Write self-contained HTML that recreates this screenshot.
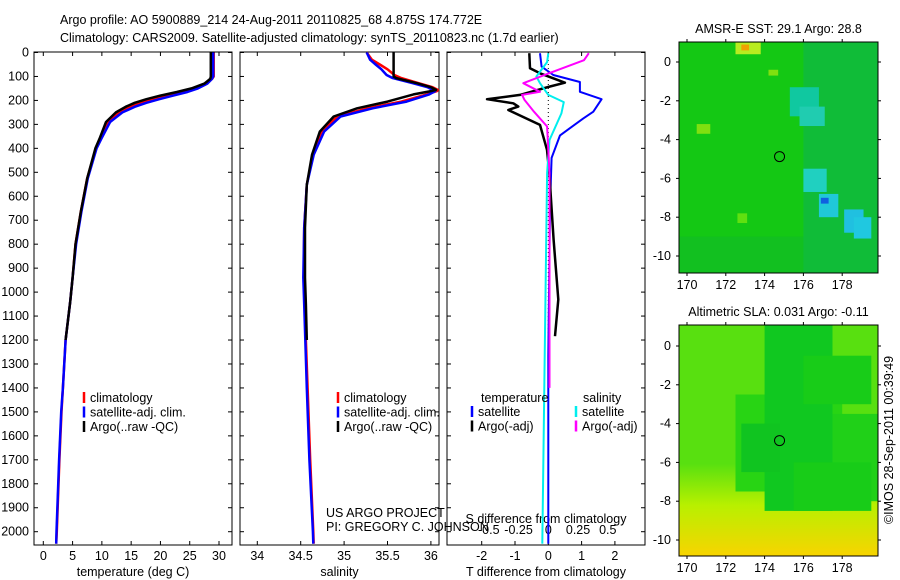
<!DOCTYPE html>
<html><head><meta charset="utf-8"><style>
body{margin:0;background:#fff;}
svg{display:block;font-family:"Liberation Sans",sans-serif;}
text{font-size:12.5px;fill:#000;}
</style></head><body>
<svg id="chart" width="900" height="580" viewBox="0 0 900 580" xmlns="http://www.w3.org/2000/svg">
<text x="60" y="24">Argo profile: AO 5900889_214 24-Aug-2011 20110825_68 4.875S 174.772E</text>
<text x="60" y="42">Climatology: CARS2009. Satellite-adjusted climatology: synTS_20110823.nc (1.7d earlier)</text>
<g id="m1"></g>
<g id="m2"></g>
<g id="p1"></g>
<g id="p2"></g>
<g id="p3"></g>
<text transform="translate(893,440) rotate(-90)" text-anchor="middle">©IMOS 28-Sep-2011 00:39:49</text>
</svg>
<script>
const depths=[0,100,110,130,150,165,180,195,210,225,250,290,360,400,525,665,800,940,1040,1200,1400,1500,1700,2000,2050];
const tempClim=[29.1,29.1,28.8,27.8,25.8,23.8,21.2,18.8,16.7,15.0,12.9,11.0,9.7,9.0,7.5,6.4,5.5,5.0,4.6,3.8,3.35,3.1,2.75,2.3,2.2];
const tempSat=[29.0,29.0,28.8,28.0,26.4,24.6,22.2,19.8,17.6,15.8,13.5,11.4,9.9,9.1,7.6,6.5,5.6,5.0,4.6,3.8,3.35,3.05,2.7,2.25,2.2];
const argoDepths=[0,100,110,130,150,165,180,195,210,225,250,290,360,400,525,665,800,940,1040,1200];
const tempArgo=[28.6,28.6,28.5,27.5,25.3,22.8,20.0,17.6,15.6,14.2,12.4,10.7,9.6,8.9,7.5,6.4,5.5,5.0,4.6,3.8];
const salDepths=[0,30,52,70,94,107,128,145,156,161,175,205,233,267,330,427,552,731,940,1052,1400,1700,2000,2050];
const salClim=[35.26,35.32,35.42,35.5,35.58,35.66,35.86,36.02,36.08,36.07,35.95,35.66,35.27,34.92,34.74,34.64,34.57,34.54,34.535,34.545,34.58,34.61,34.645,34.65];
const salSat=[35.26,35.3,35.37,35.43,35.49,35.56,35.79,35.96,36.02,36.05,35.98,35.72,35.33,34.96,34.77,34.65,34.57,34.54,34.53,34.54,34.57,34.6,34.64,34.645];
const argoSalDepths=[0,100,107,128,145,156,161,175,205,233,267,330,427,552,731,940,1052,1200];
const salArgo=[35.57,35.57,35.6,35.84,36.0,36.06,36.0,35.8,35.5,35.15,34.88,34.72,34.63,34.57,34.55,34.55,34.56,34.57];
const dTdepths=[3,66,87,126,142,177,195,212,226,240,302,406,503,781,1031,1184];
const dTargo=[-0.57,-0.55,-0.25,0.5,0.05,-0.85,-1.84,-1.05,-0.9,-1.2,-0.25,-0.04,0.03,0.16,0.3,0.2];
const dTsatDepths=[3,59,94,123,164,195,247,275,346,440,641,1268,2050];
const dTsat=[-0.25,-0.2,0.15,0.95,0.95,1.6,1.35,1.05,0.35,0.1,0.05,0.0,0.0];
const dSsatDepths=[3,40,100,128,177,207,254,365,503,1268,2050];
const dSsat=[0.0,-0.01,-0.1,-0.07,0.0,0.13,0.11,0.01,-0.01,-0.03,-0.05];
const dSargoDepths=[3,32,86,128,164,177,198,247,309,503,1184,1400];
const dSargo=[0.34,0.3,0.01,-0.21,-0.07,-0.22,-0.2,-0.12,-0.01,0.01,0.01,0.01];
const depthTicks=[0,100,200,300,400,500,600,700,800,900,1000,1100,1200,1300,1400,1500,1600,1700,1800,1900,2000];
const tTicks=[0,5,10,15,20,25,30];
const sTicks=[34,34.5,35,35.5,36];
const dTticks=[-2,-1,0,1,2];
const dSticks=[-0.5,-0.25,0,0.25,0.5];
const lonTicks=[170,172,174,176,178];
const latTicks=[0,-2,-4,-6,-8,-10];

const NS='http://www.w3.org/2000/svg';
function mk(parent,tag,attrs){const e=document.createElementNS(NS,tag);for(const k in attrs)e.setAttribute(k,attrs[k]);parent.appendChild(e);return e;}
const top0=52,bot=545;
const yD=d=>52.5+d*0.2396;
function panel(g,x0,x1,v0,px0,scale,ticks,label,dataName){
  const xs=v=>px0+(v-v0)*scale;
  const r=mk(g,'rect',{x:x0,y:top0,width:x1-x0,height:bot-top0,fill:'none',stroke:'#000'});
  
  
  ticks.forEach(t=>{const x=xs(t);
    mk(g,'line',{x1:x,x2:x,y1:bot,y2:bot-4,stroke:'#000'});
    mk(g,'line',{x1:x,x2:x,y1:top0,y2:top0+4,stroke:'#000'});
    const tx=mk(g,'text',{x:x,y:bot+15,'text-anchor':'middle'});tx.textContent=t;
    
    
  });
  depthTicks.forEach(d=>{const y=yD(d);
    mk(g,'line',{x1:x0,x2:x0+4,y1:y,y2:y,stroke:'#000'});
    mk(g,'line',{x1:x1,x2:x1-4,y1:y,y2:y,stroke:'#000'});
  });
  if(label){const l=mk(g,'text',{x:(x0+x1)/2,y:bot+31,'text-anchor':'middle'});l.textContent=label;
    
    }
  return xs;
}
function line(g,xs,ds,vals,color,name,w){
  let d='';
  vals.forEach((v,i)=>{d+=(i?'L':'M')+xs(v).toFixed(1)+','+yD(ds[i]).toFixed(1);});
  const p=mk(g,'path',{d:d,fill:'none',stroke:color,'stroke-width':w||2.5,'stroke-linejoin':'round'});
  
  
}
function legend(g,x,y,items){
  items.forEach((it,i)=>{const yy=y+i*14.5;
    mk(g,'line',{x1:x,x2:x,y1:yy-10,y2:yy+1,stroke:it[1],'stroke-width':2.5});
    const t=mk(g,'text',{x:x+6,y:yy});t.textContent=it[0];
    
    
  });
}
const p1=document.getElementById('p1');
depthTicks.forEach(d=>{const t=mk(p1,'text',{x:29,y:yD(d)+4,'text-anchor':'end'});t.textContent=d;
  
  });
const xT=panel(p1,34,232,0,43.3,5.857,tTicks,'temperature (deg C)','temperature');
line(p1,xT,depths,tempClim,'#f00','temp-climatology');
line(p1,xT,depths,tempSat,'#00f','temp-satellite');
line(p1,xT,argoDepths,tempArgo,'#000','temp-argo');
legend(p1,84,402,[['climatology','#f00'],['satellite-adj. clim.','#00f'],['Argo(..raw -QC)','#000']]);

const p2=document.getElementById('p2');
const xS=panel(p2,240,439,34,257.3,86.8,sTicks,'salinity','salinity');
line(p2,xS,salDepths,salClim,'#f00','sal-climatology');
line(p2,xS,salDepths,salSat,'#00f','sal-satellite');
line(p2,xS,argoSalDepths,salArgo,'#000','sal-argo');
legend(p2,338,402,[['climatology','#f00'],['satellite-adj. clim.','#00f'],['Argo(..raw -QC)','#000']]);

const p3=document.getElementById('p3');
const xDT=panel(p3,447,645,0,548.3,33.3,dTticks,'T difference from climatology','difference');
const xDS=v=>548.3+v*119;
dSticks.forEach(t=>{const tx=mk(p3,'text',{x:xDS(t),y:534,'text-anchor':'middle'});tx.textContent=t;
  
  });
const st=mk(p3,'text',{x:546,y:523,'text-anchor':'middle'});st.textContent='S difference from climatology';


mk(p3,'line',{x1:xDT(0),x2:xDT(0),y1:top0,y2:yD(1400),stroke:'#000','stroke-dasharray':'1,3'});
line(p3,xDT,dTsatDepths,dTsat,'#00f','dT-satellite',2);
line(p3,xDT,dTdepths,dTargo,'#000','dT-argo',2.5);
line(p3,xDS,dSsatDepths,dSsat,'#0ee','dS-satellite',2);
line(p3,xDS,dSargoDepths,dSargo,'#f0f','dS-argo',2);
[['temperature',481],['salinity',583]].forEach(a=>{const t=mk(p3,'text',{x:a[1],y:402});t.textContent=a[0];
  
  });
legend(p3,472,416,[['satellite','#00f'],['Argo(-adj)','#000']]);
legend(p3,576,416,[['satellite','#0ee'],['Argo(-adj)','#f0f']]);

const cr=document.getElementById('chart');
[['US ARGO PROJECT',517],['PI: GREGORY C. JOHNSON',531]].forEach(a=>{const t=mk(cr,'text',{x:326,y:a[1]});t.textContent=a[0];
  
  });

function map(g,y0,y1,lat0y,latm10y,title,base,patches,grad){
  const x0=679,x1=878;
  const lonX=l=>687+(l-170)*19.4;
  const latY=l=>lat0y+(-l)*(latm10y-lat0y)/10;
  const cp=mk(g,'clipPath',{id:'c'+y0});mk(cp,'rect',{x:x0,y:y0,width:x1-x0,height:y1-y0});
  const inner=mk(g,'g',{'clip-path':'url(#c'+y0+')'});
  if(grad){
    const defs=mk(g,'defs',{});const lg=mk(defs,'linearGradient',{id:'g'+y0,x1:0,y1:0,x2:0,y2:1});
    grad.forEach(s=>mk(lg,'stop',{offset:s[0],'stop-color':s[1]}));
    mk(inner,'rect',{x:x0,y:y0,width:x1-x0,height:y1-y0,fill:'url(#g'+y0+')'});
  } else mk(inner,'rect',{x:x0,y:y0,width:x1-x0,height:y1-y0,fill:base});
  patches.forEach(p=>mk(inner,'rect',{x:lonX(p[0]),y:latY(p[1]),width:p[2]*19.4,height:p[3]*19.4,fill:p[4]}));
  const c=mk(g,'circle',{cx:lonX(174.77),cy:latY(-4.875),r:5,fill:'none',stroke:'#000'});
  
  
  const fr=mk(g,'rect',{x:x0,y:y0,width:x1-x0,height:y1-y0,fill:'none',stroke:'#000'});
  
  
  lonTicks.forEach(l=>{const x=lonX(l);mk(g,'line',{x1:x,x2:x,y1:y1,y2:y1+3,stroke:'#000'});mk(g,'line',{x1:x,x2:x,y1:y0,y2:y0-3,stroke:'#000'});
    const t=mk(g,'text',{x:x,y:y1+16,'text-anchor':'middle'});t.textContent=l;
    
    });
  latTicks.forEach(l=>{const y=latY(l);mk(g,'line',{x1:x0,x2:x0-3,y1:y,y2:y,stroke:'#000'});mk(g,'line',{x1:x1,x2:x1+3,y1:y,y2:y,stroke:'#000'});
    const t=mk(g,'text',{x:x0-8,y:y+4,'text-anchor':'end'});t.textContent=l;
    
    });
  const t=mk(g,'text',{x:(x0+x1)/2,y:y0-9,'text-anchor':'middle'});t.textContent=title;
  
  
}
map(document.getElementById('m1'),42,273,62,256,'AMSR-E SST: 29.1 Argo: 28.8','#14c814',
 [[169.5,-9,10.5,3,'#12c020'],[176,1.5,4,12.5,'#10bc38'],[172.5,1,1.3,0.6,'#b8ec20'],[172.8,0.9,0.4,0.3,'#f0a000'],[174.2,-0.4,0.5,0.3,'#80e010'],
  [175.3,-1.3,1.5,1.5,'#10c8a0'],[175.8,-2.3,1.3,1,'#20ccb0'],[176,-5.5,1.2,1.2,'#20d0c0'],[176.8,-6.8,1,1.2,'#20c8d8'],[176.9,-7,0.4,0.3,'#1060e0'],[178.1,-7.6,1,1.2,'#20c0e0'],[178.6,-8,0.9,1.1,'#20c8e0'],[170.5,-3.2,0.7,0.5,'#80e010'],[172.6,-7.8,0.5,0.5,'#60e010']],null);
map(document.getElementById('m2'),325,556,346,540,'Altimetric SLA: 0.031 Argo: -0.11','#58e010',
 [[172.5,-2.5,5.5,5,'#28d414'],[174,1.5,3.5,10,'#10c820'],[176,-0.5,3.5,2.5,'#18cc18'],[177.5,-3.5,2.5,4.5,'#20d018'],[175.5,-6,4,2.5,'#18cc18'],[172.8,-4,2,2.5,'#10c420']],
 [[0,'#58e010'],[0.6,'#58e010'],[0.78,'#b8f000'],[1,'#f8d400']]);
</script>
</body></html>
